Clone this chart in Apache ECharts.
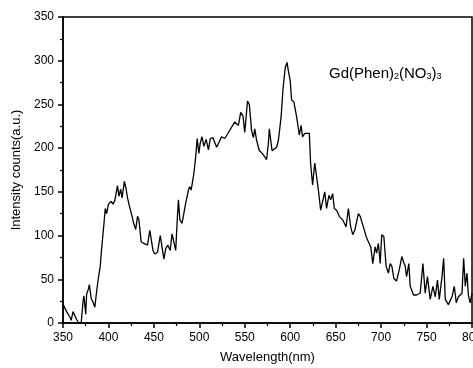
<!DOCTYPE html>
<html>
<head>
<meta charset="utf-8">
<script src="https://cdn.jsdelivr.net/npm/echarts@6/dist/echarts.min.js"></script>
<style>
  html, body { margin: 0; padding: 0; background: #fff; }
  #chart { width: 473px; height: 368px; }
</style>
</head>
<body>
<div id="chart"></div>
<script>
// spectrum (nm, a.u.)
const wavelength = [
  350, 352, 354, 356, 358, 359, 361, 363, 365, 367, 370, 371, 372, 373, 375, 376, 378, 379, 381, 383,
  385, 387, 389, 391, 392, 395, 396.5, 398, 400, 403, 405, 407, 410, 411.5, 413.5, 415, 417.5, 419.5, 421, 423,
  425.5, 427.5, 430, 432, 433.5, 436, 439, 443, 445.5, 447.5, 449, 451, 454, 457, 459, 461, 463, 465.5, 468, 470,
  472, 474, 475.7, 477, 478.6, 481, 485, 488, 489.5, 491, 494, 496, 497.6, 499.5, 501, 503, 505, 507.5, 510, 512,
  515, 519, 521, 524.5, 528, 531.5, 539, 543, 545.5, 548, 550, 553, 555, 557.5, 559.5, 561, 563, 566, 568.5, 572,
  574, 576, 577, 580, 582, 585, 587, 590, 592, 594.5, 596.5, 598, 600, 601.5, 604, 607, 610, 612, 613.5, 616,
  621, 622.4, 624.6, 626, 627, 629, 631, 633.5, 635.7, 638, 640, 642.6, 644.5, 646.7, 648.5, 651, 654, 657.7, 661.4, 664,
  666.5, 668.8, 671, 675, 677, 678.7, 680.5, 683.5, 686, 688.6, 690.8, 693.4, 695, 697, 699, 700.7, 703, 705.5, 708, 710,
  711.8, 714, 717, 720, 722.8, 724.6, 726.5, 728, 730.5, 732, 735.7, 739, 743, 746, 748.5, 751, 754, 757, 759.6, 762,
  764, 767, 768.8, 770.6, 774, 778, 780.5, 782.7, 785, 789, 790.8, 792.6, 794.5, 796, 798, 800
];
const intensity = [
  22, 17, 13, 14, 6, 3, 13, 13, 4, 0, 0, 0, 24, 31, 10, 33, 39, 44, 28, 24,
  18, 36, 52, 65, 79, 113, 131, 125, 136, 139, 136, 140, 157, 145, 153, 143, 162, 153, 143, 134,
  124, 115, 107, 122, 118, 93, 91, 89, 106, 104, 83, 79, 81, 100, 98, 73, 85, 89, 83, 102,
  104, 83, 118, 141, 118, 114, 137, 152, 156, 152, 171, 190, 211, 194, 206, 213, 202, 210, 198, 211,
  212, 201, 199, 213, 211, 217, 230, 226, 241, 237, 218, 254, 250, 220, 212, 222, 209, 197, 195, 190,
  187, 206, 222, 197, 197, 201, 209, 236, 267, 292, 298, 288, 277, 255, 253, 236, 215, 226, 213, 217,
  217, 183, 158, 156, 183, 183, 152, 129, 127, 150, 131, 146, 141, 148, 131, 129, 122, 118, 110, 131,
  110, 101, 106, 125, 122, 122, 110, 99, 93, 87, 68, 87, 80, 91, 68, 101, 99, 65, 57, 68,
  65, 51, 48, 61, 76, 70, 65, 53, 68, 42, 32, 32, 34, 68, 34, 53, 27, 42, 30, 49,
  27, 53, 74, 27, 21, 30, 42, 23, 30, 34, 74, 42, 57, 32, 23, 34
];

const FONT = "'Liberation Sans', Arial, sans-serif";

const chart = echarts.init(document.getElementById("chart"), null, { renderer: "canvas" });

const axisCommon = {
  type: "value",
  nameLocation: "middle",
  nameTextStyle: { fontFamily: FONT, fontSize: 13, color: "#000" },
  axisLine: { show: true, lineStyle: { color: "#000", width: 1.5 } },
  axisTick: { show: true, inside: false, length: 5, lineStyle: { color: "#000", width: 1.5 } },
  minorTick: { show: true, splitNumber: 2, length: 3, lineStyle: { color: "#000", width: 1.2 } },
  axisLabel: { fontFamily: FONT, fontSize: 12, color: "#000", margin: 9 },
  splitLine: { show: false },
};

chart.setOption({
  animation: false,
  backgroundColor: "#fff",
  grid: {
    left: 63, right: 1, top: 17, bottom: 45,
    outerBoundsMode: "none",
    containLabel: false,
    show: true, borderColor: "#000", borderWidth: 1.5,
  },
  xAxis: Object.assign({}, axisCommon, {
    min: 350, max: 800, interval: 50,
    name: "Wavelength(nm)",
    nameGap: 28,
    axisLabel: Object.assign({}, axisCommon.axisLabel, { margin: 9, showMaxLabel: true }),
  }),
  yAxis: Object.assign({}, axisCommon, {
    min: 0, max: 350, interval: 50,
    name: "Intensity counts(a.u.)",
    nameGap: 36,
  }),
  series: [{
    type: "line",
    data: wavelength.map((w, i) => [w, intensity[i]]),
    showSymbol: false,
    lineStyle: { color: "#000", width: 1.3 },
  }],
  graphic: [{
    type: "text",
    left: 329,
    top: 61,
    style: {
      text: "{a|Gd(Phen)}{s|2}{a|(NO}{s|3}{a|)}{s|3}",
      rich: {
        a: { fontFamily: FONT, fontSize: 15, color: "#000", lineHeight: 15, verticalAlign: "top" },
        s: { fontFamily: FONT, fontSize: 9, color: "#000", lineHeight: 10, padding: [11, 0, 0, 0], verticalAlign: "bottom" },
      },
    },
  }],
});
</script>
</body>
</html>
